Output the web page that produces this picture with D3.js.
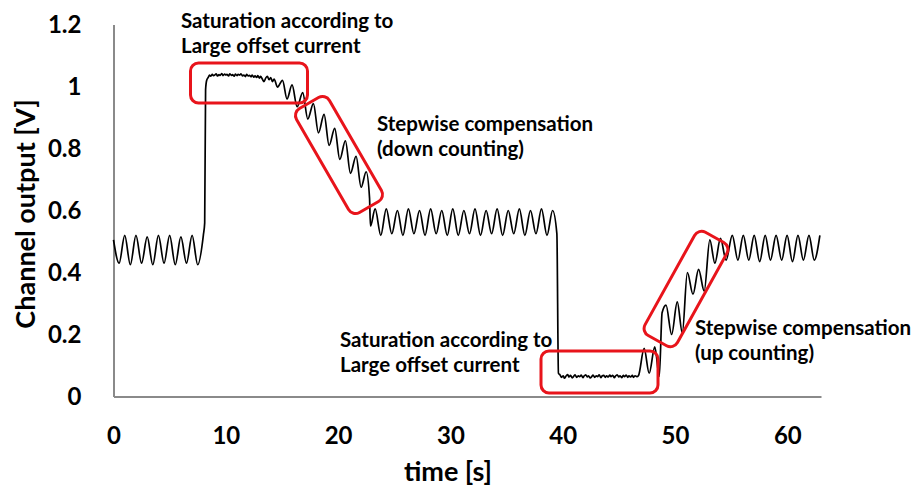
<!DOCTYPE html>
<html>
<head>
<meta charset="utf-8">
<script src="https://cdn.jsdelivr.net/npm/d3@7"></script>
<style>
  html, body { margin: 0; padding: 0; background: #fff; }
  svg { display: block; }
  text { font-family: Lato, "Open Sans", sans-serif; font-weight: 700; fill: #000; }
</style>
</head>
<body>
<svg id="chart" width="917" height="492"></svg>
<script>
// ---- data: [time (s), channel output (V)] ----
const baselineStart = [
  [0,0.505],[0.5,0.43],[1.0,0.52],[1.5,0.425],[2.0,0.52],[2.5,0.43],[3.0,0.515],[3.5,0.425],
  [4.0,0.52],[4.5,0.43],[5.0,0.52],[5.5,0.425],[6.0,0.515],[6.5,0.43],[7.0,0.52],[7.5,0.425],
  [8.0,0.52],[8.12,0.56],[8.2,0.99],[8.3,1.02]
];
const saturationHigh = [
  [8.45,1.030],[8.55,1.037],[8.65,1.033],[8.8,1.039],[8.9,1.035],[9.0,1.036],[9.15,1.041],[9.25,1.034],
  [9.4,1.038],[9.5,1.036],[9.65,1.042],[9.75,1.035],[9.9,1.040],[10.0,1.037],[10.1,1.039],[10.25,1.034],
  [10.35,1.041],[10.5,1.036],[10.6,1.038],[10.75,1.033],[10.85,1.040],[11.0,1.035],[11.1,1.039],[11.25,1.037],
  [11.35,1.041],[11.5,1.034],[11.6,1.037],[11.75,1.032],[11.85,1.039],[12.0,1.034],[12.1,1.036],[12.25,1.031],
  [12.35,1.037],[12.5,1.030],[12.6,1.034],[12.75,1.029],[12.85,1.035],[13.0,1.027],[13.1,1.033],[13.25,1.024],
  [13.4,1.016],[13.55,1.027],[13.7,1.033],[13.85,1.022],[14.0,1.029],[14.15,1.016],[14.3,1.024]
];
const downCounting = [
  [14.6,0.998],[15.05,1.02],[15.45,0.96],[15.9,1.005],[16.35,0.935],[16.85,0.98],[17.3,0.895],[17.8,0.945],
  [18.25,0.85],[18.75,0.91],[19.2,0.81],[19.7,0.865],[20.15,0.765],[20.65,0.825],[21.1,0.72],[21.6,0.775],
  [22.05,0.675],[22.5,0.725],[22.8,0.64],[22.88,0.55]
];
const baselineMid = [
  [23.3,0.605],[23.8,0.52],[24.29,0.605],[24.78,0.525],[25.28,0.6],[25.77,0.52],[26.26,0.605],[26.75,0.525],
  [27.25,0.6],[27.74,0.52],[28.24,0.605],[28.73,0.525],[29.23,0.6],[29.72,0.52],[30.21,0.605],[30.7,0.52],
  [31.2,0.6],[31.7,0.525],[32.19,0.605],[32.68,0.52],[33.18,0.6],[33.67,0.525],[34.16,0.605],[34.65,0.52],
  [35.15,0.6],[35.64,0.525],[36.14,0.605],[36.63,0.52],[37.13,0.6],[37.62,0.525],[38.11,0.605],[38.6,0.52],
  [39.1,0.6],[39.48,0.525],[39.62,0.075]
];
const saturationLow = [
  [39.75,0.070],[39.9,0.062],[40.05,0.067],[40.15,0.059],[40.3,0.066],[40.45,0.071],[40.55,0.063],[40.7,0.068],
  [40.85,0.060],[41.0,0.066],[41.1,0.070],[41.25,0.062],[41.4,0.067],[41.5,0.064],[41.65,0.069],[41.8,0.061],
  [41.9,0.066],[42.05,0.070],[42.2,0.063],[42.3,0.067],[42.45,0.060],[42.6,0.065],[42.7,0.069],[42.85,0.062],
  [43.0,0.067],[43.1,0.064],[43.25,0.070],[43.4,0.061],[43.5,0.066],[43.65,0.068],[43.8,0.062],[43.9,0.067],
  [44.05,0.063],[44.2,0.069],[44.3,0.064],[44.45,0.068],[44.6,0.061],[44.7,0.066],[44.85,0.070],[45.0,0.063],
  [45.1,0.067],[45.25,0.061],[45.4,0.068],[45.5,0.064],[45.65,0.069],[45.8,0.062],[45.9,0.067],[46.05,0.063],
  [46.2,0.068],[46.3,0.062],[46.45,0.067],[46.6,0.064],[46.75,0.068]
];
const upCounting = [
  [47.25,0.155],[47.7,0.075],[48.2,0.16],[48.6,0.065],[48.85,0.27],[49.2,0.295],[49.7,0.2],[50.2,0.305],
  [50.65,0.205],[51.1,0.40],[51.6,0.33],[52.1,0.41],[52.6,0.34],[53.1,0.505],[53.55,0.43],[54.05,0.51],[54.55,0.44]
];
const baselineEnd = [
  [55.1,0.52],[55.6,0.44],[56.08,0.52],[56.57,0.44],[57.05,0.52],[57.54,0.435],[58.03,0.52],[58.5,0.44],
  [59.0,0.52],[59.5,0.44],[59.98,0.52],[60.46,0.435],[60.95,0.52],[61.43,0.44],[61.93,0.52],[62.4,0.44],[62.9,0.52]
];
const xTicks = [0, 10, 20, 30, 40, 50, 60];
const yTicks = [0, 0.2, 0.4, 0.6, 0.8, 1, 1.2];
const yTickLabels = ["0", "0.2", "0.4", "0.6", "0.8", "1", "1.2"];
const xTitle = "time [s]";
const yTitle = "Channel output [V]";
const annotations = [
  { lines: ["Saturation according to", "Large offset current"], x: 181, y: 28 },
  { lines: ["Stepwise compensation", "(down counting)"], x: 377, y: 131 },
  { lines: ["Saturation according to", "Large offset current"], x: 340, y: 347 },
  { lines: ["Stepwise compensation", "(up counting)"], x: 695, y: 335 }
];

// ---- chart ----
const svg = d3.select("#chart");
const x = d3.scaleLinear().domain([0, 63]).range([113.5, 821]);
const y = d3.scaleLinear().domain([0, 1.2]).range([396.5, 24.5]);

const series = [].concat(baselineStart, saturationHigh, downCounting, baselineMid,
                         saturationLow, upCounting, baselineEnd);

// axes
const xAxis = svg.append("g").attr("transform", `translate(0,${y(0)})`)
  .call(d3.axisBottom(x).tickValues(xTicks).tickSize(0).tickPadding(30).tickFormat(d3.format("d")));
const yAxis = svg.append("g").attr("transform", `translate(${x(0)},0)`)
  .call(d3.axisLeft(y).tickValues(yTicks).tickSize(0).tickPadding(32)
        .tickFormat((d, i) => yTickLabels[i]));
[xAxis, yAxis].forEach(g => {
  g.select(".domain").attr("stroke", "#8a8a8a").attr("stroke-width", 2);
  g.selectAll("text").style("font-size", "24px").style("font-family", "Lato, sans-serif")
   .style("font-weight", "700").attr("fill", "#000");
});

// signal
const line = d3.line().x(d => x(d[0])).y(d => y(d[1])).curve(d3.curveMonotoneX);
svg.append("path").datum(series).attr("d", line)
  .attr("fill", "none").attr("stroke", "#000").attr("stroke-width", 1.7)
  .attr("stroke-linejoin", "round");

// axis titles
svg.append("text").attr("x", 448).attr("y", 481).attr("text-anchor", "middle")
  .style("font-size", "27px").text(xTitle);
svg.append("text").attr("transform", "translate(35,214) rotate(-90)").attr("text-anchor", "middle")
  .style("font-size", "27px").text(yTitle);

// red highlight boxes
const red = "#e8141b";
const boxes = [
  { cx: 249, cy: 83, w: 117, h: 40, a: 0 },
  { cx: 339, cy: 155, w: 120, h: 38, a: 60 },
  { cx: 599.5, cy: 372, w: 117, h: 42, a: 0 },
  { cx: 686, cy: 289, w: 118, h: 37, a: -61 }
];
svg.append("g").selectAll("rect").data(boxes).join("rect")
  .attr("x", d => -d.w / 2).attr("y", d => -d.h / 2)
  .attr("width", d => d.w).attr("height", d => d.h)
  .attr("rx", 8).attr("ry", 8)
  .attr("transform", d => `translate(${d.cx},${d.cy}) rotate(${d.a})`)
  .attr("fill", "none").attr("stroke", red).attr("stroke-width", 3);

// annotation text
const ann = svg.append("g").selectAll("text").data(annotations).join("text")
  .attr("x", d => d.x).attr("y", d => d.y).style("font-size", "20.5px");
ann.selectAll("tspan").data(d => d.lines.map((l, i) => ({ l, i, x: d.x }))).join("tspan")
  .attr("x", d => d.x).attr("dy", d => d.i === 0 ? 0 : 25).text(d => d.l);
</script>
</body>
</html>
